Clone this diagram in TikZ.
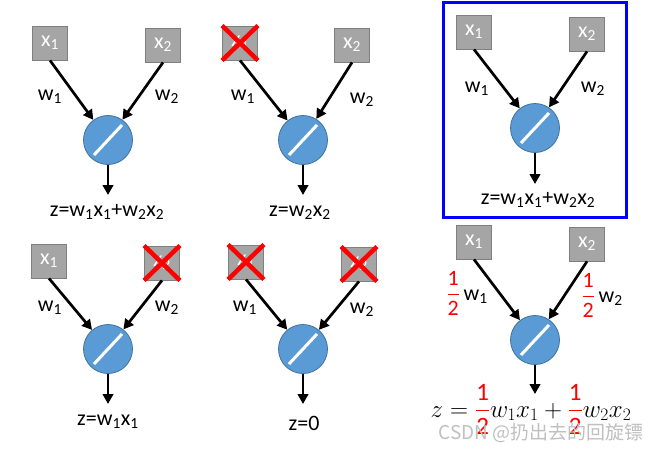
\RequirePackage{fix-cm}
\documentclass[tikz,border=0pt]{standalone}
\usepackage{amsmath}
\usepackage{fontspec}
\setmainfont{Carlito}
\newfontfamily\cjkfont{Noto Sans CJK SC}
\usetikzlibrary{arrows.meta,positioning}
\definecolor{boxgray}{HTML}{A5A5A5}
\definecolor{boxedge}{HTML}{7F7F7F}
\definecolor{unitblue}{HTML}{5B9BD5}
\definecolor{unitedge}{HTML}{41719C}
\newcommand{\half}{\textcolor{red}{\dfrac{\text{1}}{\text{2}}}}

\begin{document}
\begin{tikzpicture}[x=1pt,y=-1pt,
    every node/.style={font=\fontsize{22}{26}\selectfont},
    inbox/.style={draw=boxedge,line width=0.8pt,fill=boxgray,text=white,
      minimum width=35pt,minimum height=34pt,inner sep=0pt},
    unit/.style={circle,draw=unitedge,line width=0.8pt,fill=unitblue,
      minimum size=49pt,inner sep=0pt,
      path picture={\draw[white,line width=3pt]
        ([shift={(-14pt,-15pt)}]path picture bounding box.center) --
        ([shift={(14pt,15pt)}]path picture bounding box.center);}},
    wire/.style={line width=2.7pt,-{Triangle[length=10pt,width=10.5pt]}},
    crossout/.style={red,line width=4.5pt}]
  \useasboundingbox (0,0) rectangle (663,453);

  % top left
  \node[inbox] (xa1) at (50,43) {x\textsubscript{1}};
  \node[inbox] (xb1) at (163,45) {x\textsubscript{2}};
  \node[unit] (u1) at (108,140) {};
  \node (wa1) at (50,97) {w\textsubscript{1}};
  \node (wb1) at (167,97) {w\textsubscript{2}};
  \coordinate (t1) at (108,195);
  \node (z1) at (107,212) {z=w\textsubscript{1}x\textsubscript{1}+w\textsubscript{2}x\textsubscript{2}};

  % top middle
  \node[inbox] (xa2) at (240,43) {x\textsubscript{1}};
  \node[inbox] (xb2) at (352,45) {x\textsubscript{2}};
  \node[unit] (u2) at (303,140) {};
  \node (wa2) at (243,97) {w\textsubscript{1}};
  \node (wb2) at (362,100) {w\textsubscript{2}};
  \coordinate (t2) at (303,195);
  \node (z2) at (300,213) {z=w\textsubscript{2}x\textsubscript{2}};

  % top right, framed
  \node[inbox] (xa3) at (474,32) {x\textsubscript{1}};
  \node[inbox] (xb3) at (587,34) {x\textsubscript{2}};
  \node[unit] (u3) at (535,128) {};
  \node (wa3) at (477,89) {w\textsubscript{1}};
  \node (wb3) at (593,89) {w\textsubscript{2}};
  \coordinate (t3) at (535,184);
  \node (z3) at (538,200) {z=w\textsubscript{1}x\textsubscript{1}+w\textsubscript{2}x\textsubscript{2}};
  \draw[blue,line width=3pt] (443,2) rectangle (626,217);

  % bottom left
  \node[inbox] (xa4) at (49,261) {x\textsubscript{1}};
  \node[inbox] (xb4) at (162,263) {x\textsubscript{2}};
  \node[unit] (u4) at (108,349) {};
  \node (wa4) at (50,308) {w\textsubscript{1}};
  \node (wb4) at (167,308) {w\textsubscript{2}};
  \coordinate (t4) at (108,404);
  \node (z4) at (108,422) {z=w\textsubscript{1}x\textsubscript{1}};

  % bottom middle
  \node[inbox] (xa5) at (246,262) {x\textsubscript{1}};
  \node[inbox] (xb5) at (359,264) {x\textsubscript{2}};
  \node[unit] (u5) at (303,349) {};
  \node (wa5) at (245,308) {w\textsubscript{1}};
  \node (wb5) at (362,310) {w\textsubscript{2}};
  \coordinate (t5) at (303,404);
  \node (z5) at (304,423) {z=0};

  % bottom right, halved weights
  \node[inbox] (xa6) at (474,242) {x\textsubscript{1}};
  \node[inbox] (xb6) at (587,244) {x\textsubscript{2}};
  \node[unit] (u6) at (535,340) {};
  \node[anchor=base] (wa6) at (467,300) {$\half$\,w\textsubscript{1}};
  \node[anchor=base] (wb6) at (602,302) {$\half$\,w\textsubscript{2}};
  \coordinate (t6) at (535,394);
  \node[anchor=base,font=\fontsize{25}{29}\selectfont] (z6) at (531,417)
    {$z=\half w_1x_1+\half w_2x_2$};

  \foreach \i in {1,...,6} {
    \draw[wire] (xa\i.south) -- (u\i);
    \draw[wire] (xb\i.south) -- (u\i);
    \draw[wire] (u\i) -- (t\i);
  }
  \foreach \b in {xa2,xb4,xa5,xb5}
    \draw[crossout] (\b.north west) -- (\b.south east)
      (\b.north east) -- (\b.south west);

  \node[font=\cjkfont\fontsize{19}{22}\selectfont,text=black!25] (mark) at (541,433)
    {CSDN @扔出去的回旋镖};
\end{tikzpicture}
\end{document}
